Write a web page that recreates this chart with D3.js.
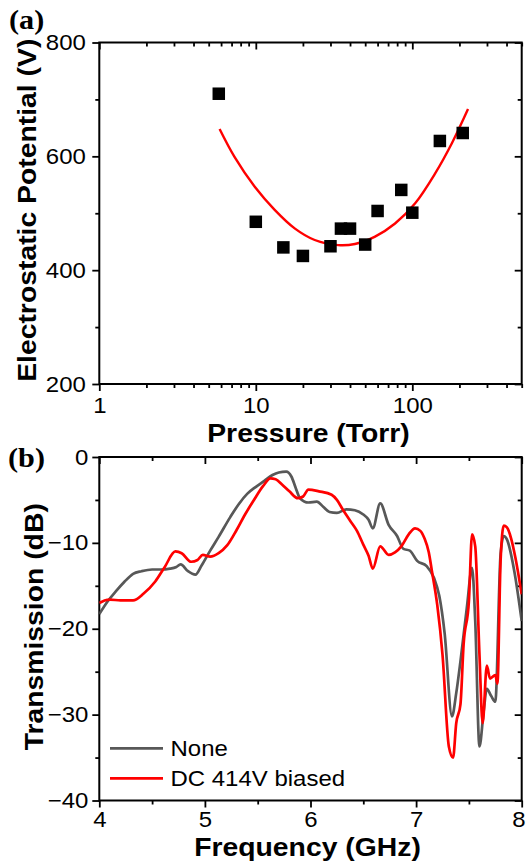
<!DOCTYPE html>
<html><head><meta charset="utf-8">
<script src="https://cdn.jsdelivr.net/npm/d3@7"></script>
<style>body{margin:0;background:#fff}svg{display:block}</style>
</head><body>
<script>
// ---------- Panel (a) data ----------
const pressure  = [5.8, 10, 15, 20, 30, 35, 40, 50, 60, 85, 100, 150, 210];
const potential = [710, 485, 440, 425, 442, 473, 473, 445, 504, 541, 501, 627, 641];
const fitPressure  = [5.87, 7.31, 9.82, 13.2, 17.8, 23.8, 33.6, 43, 57.8, 77.6, 104, 140, 179, 227];
const fitPotential = [648, 599, 547, 506, 473, 453, 444, 446, 459, 482, 517, 570, 623, 683];
const pressTicks = [1, 10, 100];
const potTicks = [200, 400, 600, 800];

// ---------- Panel (b) data ----------
const freqNone  = [4.00,4.08,4.16,4.24,4.32,4.40,4.50,4.58,4.67,4.73,4.77,4.84,4.91,4.97,5.05,5.13,5.24,5.32,5.40,5.48,5.56,5.64,5.70,5.77,5.82,5.86,5.90,5.98,6.06,6.12,6.18,6.25,6.34,6.42,6.50,6.55,6.59,6.66,6.74,6.82,6.88,6.94,7.01,7.10,7.17,7.22,7.27,7.34,7.38,7.42,7.48,7.53,7.56,7.60,7.64,7.67,7.71,7.75,7.80,7.83,7.86,7.93,8.00];
const transNone = [-18.3,-16.8,-15.6,-14.5,-13.6,-13.3,-13.1,-13.1,-13.0,-12.8,-12.5,-13.3,-13.7,-12.6,-10.9,-9.3,-7.0,-5.5,-4.3,-3.5,-2.8,-2.1,-1.8,-1.7,-2.3,-3.6,-4.8,-5.3,-5.2,-5.8,-6.4,-6.5,-6.1,-6.2,-6.7,-7.3,-8.3,-5.4,-7.9,-9.2,-10.7,-10.9,-12.1,-12.7,-14.1,-16.2,-20.5,-30.2,-27.5,-23.8,-17.6,-12.9,-19.1,-33.7,-29.6,-27.0,-27.8,-28.5,-11.3,-9.2,-9.6,-13.3,-19.1];
const freqDC  = [4.00,4.05,4.10,4.20,4.32,4.42,4.53,4.62,4.72,4.78,4.87,4.93,4.98,5.05,5.13,5.21,5.30,5.38,5.46,5.55,5.62,5.67,5.73,5.80,5.88,5.93,5.98,6.08,6.20,6.25,6.31,6.38,6.44,6.50,6.55,6.59,6.66,6.74,6.80,6.86,6.93,6.99,7.04,7.08,7.12,7.15,7.20,7.25,7.31,7.35,7.38,7.42,7.45,7.50,7.53,7.56,7.60,7.63,7.67,7.70,7.75,7.77,7.80,7.83,7.86,7.90,7.94,8.00];
const transDC = [-17.0,-16.7,-16.6,-16.7,-16.7,-15.9,-14.5,-12.8,-11.0,-11.2,-12.2,-12.0,-11.4,-11.6,-11.2,-10.3,-8.5,-6.7,-5.1,-3.4,-2.5,-2.6,-3.2,-4.0,-4.8,-4.6,-3.8,-4.0,-4.4,-5.0,-6.2,-7.5,-8.6,-10.2,-11.5,-13.0,-10.4,-11.4,-11.1,-10.4,-9.0,-8.3,-8.6,-9.5,-11.1,-13.3,-17.2,-23.0,-33.7,-35.0,-31.0,-28.8,-21.8,-16.8,-9.0,-10.4,-23.0,-31.0,-24.3,-25.8,-25.4,-26.4,-12.1,-8.0,-8.2,-9.5,-11.7,-16.0];
const freqTicks = [4, 5, 6, 7, 8];
const transTicks = [0, -10, -20, -30, -40];
const seriesNames = ["None", "DC 414V biased"];
const seriesColors = ["#585858", "#ff0000"];

const W = 527, H = 868;
const SANS = "'Liberation Sans', Arial, sans-serif";
const SERIF = "'Liberation Serif', 'Times New Roman', serif";
const SX = 1.09;
const TICKFS = 22;

const svg = d3.select("body").append("svg").attr("width", W).attr("height", H);

const L = 99.3, R = 521.7;
const A = {top: 42.5, bottom: 384};
const B = {top: 457, bottom: 800.5};

function styleAxis(g) {
  g.attr("font-size", null).attr("font-family", null);
  g.select(".domain").remove();
  g.selectAll("line").attr("stroke", "#000").attr("stroke-width", 1.8);
  g.selectAll("text").attr("fill", "#000")
    .style("font-family", SANS).style("font-size", TICKFS + "px");
}

function frame(top, bottom) {
  svg.append("rect").attr("x", L).attr("y", top).attr("width", R - L).attr("height", bottom - top)
    .attr("fill", "none").attr("stroke", "#000").attr("stroke-width", 2);
}

// ================= Panel (a) =================
const xa = d3.scaleLog().domain([1, 500]).range([L, R]);
const ya = d3.scaleLinear().domain([200, 800]).range([A.bottom, A.top]);
const pressMinor = [];
[1, 10, 100].forEach(d => { for (let k = 2; k <= 9; k++) { const v = d * k; if (v <= 500) pressMinor.push(v); } });
const potMinor = [300, 500, 700];

svg.append("g").attr("transform", `translate(0,${A.bottom})`)
  .call(d3.axisBottom(xa).tickValues(pressTicks).tickSize(7).tickPadding(6).tickFormat(d3.format("d")))
  .call(styleAxis)
  .call(g => g.selectAll("text").attr("transform", `scale(${SX},1)`));
svg.append("g").attr("transform", `translate(0,${A.bottom})`)
  .call(d3.axisBottom(xa).tickValues(pressMinor).tickSize(4).tickFormat(""))
  .call(styleAxis);
svg.append("g").attr("transform", `translate(0,${A.top})`)
  .call(d3.axisTop(xa).tickValues(pressTicks).tickSize(-7).tickFormat(""))
  .call(styleAxis);
svg.append("g").attr("transform", `translate(0,${A.top})`)
  .call(d3.axisTop(xa).tickValues(pressMinor).tickSize(-4).tickFormat(""))
  .call(styleAxis);
svg.append("g").attr("transform", `translate(${L},0)`)
  .call(d3.axisLeft(ya).tickValues(potTicks).tickSize(7).tickPadding(7))
  .call(styleAxis)
  .call(g => g.selectAll("text").attr("transform", `scale(${SX},1)`).attr("x", -13.5 / SX));
svg.append("g").attr("transform", `translate(${L},0)`)
  .call(d3.axisLeft(ya).tickValues(potMinor).tickSize(4).tickFormat(""))
  .call(styleAxis);
svg.append("g").attr("transform", `translate(${R},0)`)
  .call(d3.axisRight(ya).tickValues(potTicks).tickSize(-7).tickFormat(""))
  .call(styleAxis);
svg.append("g").attr("transform", `translate(${R},0)`)
  .call(d3.axisRight(ya).tickValues(potMinor).tickSize(-4).tickFormat(""))
  .call(styleAxis);

frame(A.top, A.bottom);

const fitData = fitPressure.map((p, i) => [p, fitPotential[i]]);
svg.append("path").datum(fitData)
  .attr("d", d3.line().x(d => xa(d[0])).y(d => ya(d[1])).curve(d3.curveCatmullRom.alpha(0.5)))
  .attr("fill", "none").attr("stroke", "#ff0000").attr("stroke-width", 2.4);

const sq = 12.5;
svg.append("g").selectAll("rect").data(pressure.map((p, i) => [p, potential[i]])).join("rect")
  .attr("x", d => xa(d[0]) - sq / 2).attr("y", d => ya(d[1]) - sq / 2)
  .attr("width", sq).attr("height", sq).attr("fill", "#000");

svg.append("text").attr("transform", `translate(${(L + R) / 2 - 2},441.5) scale(${SX},1)`)
  .attr("text-anchor", "middle").style("font-family", SANS).attr("font-weight", "bold").style("font-size", "26px")
  .text("Pressure (Torr)");
svg.append("text").attr("transform", `translate(35.5,${(A.top + A.bottom) / 2 - 3}) rotate(-90) scale(${SX},1)`)
  .attr("text-anchor", "middle").style("font-family", SANS).attr("font-weight", "bold").style("font-size", "26px")
  .text("Electrostatic Potential (V)");
svg.append("text").attr("transform", `translate(9,29) scale(1.12,1)`)
  .style("font-family", SERIF).attr("font-weight", "bold").style("font-size", "27px").text("(a)");

// ================= Panel (b) =================
const xb = d3.scaleLinear().domain([4, 8]).range([L, R]);
const yb = d3.scaleLinear().domain([-40, 0]).range([B.bottom, B.top]);
const freqMinor = [4.5, 5.5, 6.5, 7.5];
const transMinor = [-5, -15, -25, -35];

svg.append("g").attr("transform", `translate(0,${B.bottom})`)
  .call(d3.axisBottom(xb).tickValues(freqTicks).tickSize(7).tickPadding(4).tickFormat(d3.format("d")))
  .call(styleAxis)
  .call(g => g.selectAll("text").attr("transform", `scale(${SX},1)`)
    .attr("x", d => d === 8 ? -3 : 0));
svg.append("g").attr("transform", `translate(0,${B.bottom})`)
  .call(d3.axisBottom(xb).tickValues(freqMinor).tickSize(4).tickFormat(""))
  .call(styleAxis);
svg.append("g").attr("transform", `translate(0,${B.top})`)
  .call(d3.axisTop(xb).tickValues(freqTicks).tickSize(-7).tickFormat(""))
  .call(styleAxis);
svg.append("g").attr("transform", `translate(0,${B.top})`)
  .call(d3.axisTop(xb).tickValues(freqMinor).tickSize(-4).tickFormat(""))
  .call(styleAxis);
svg.append("g").attr("transform", `translate(${L},0)`)
  .call(d3.axisLeft(yb).tickValues(transTicks).tickSize(7).tickPadding(7).tickFormat(d3.format("d")))
  .call(styleAxis)
  .call(g => g.selectAll("text").attr("transform", `scale(${SX},1)`).attr("x", -11 / SX));
svg.append("g").attr("transform", `translate(${L},0)`)
  .call(d3.axisLeft(yb).tickValues(transMinor).tickSize(4).tickFormat(""))
  .call(styleAxis);
svg.append("g").attr("transform", `translate(${R},0)`)
  .call(d3.axisRight(yb).tickValues(transTicks).tickSize(-7).tickFormat(""))
  .call(styleAxis);
svg.append("g").attr("transform", `translate(${R},0)`)
  .call(d3.axisRight(yb).tickValues(transMinor).tickSize(-4).tickFormat(""))
  .call(styleAxis);

frame(B.top, B.bottom);

const lineB = d3.line().x(d => xb(d[0])).y(d => yb(d[1])).curve(d3.curveMonotoneX);
const seriesB = [
  freqNone.map((f, i) => [f, transNone[i]]),
  freqDC.map((f, i) => [f, transDC[i]])
];
svg.append("clipPath").attr("id", "clipB").append("rect")
  .attr("x", L).attr("y", B.top).attr("width", R - L).attr("height", B.bottom - B.top);
seriesB.forEach((s, i) => {
  svg.append("path").datum(s).attr("d", lineB).attr("clip-path", "url(#clipB)")
    .attr("fill", "none").attr("stroke", seriesColors[i]).attr("stroke-width", 2.7)
    .attr("stroke-linejoin", "round");
});

seriesNames.forEach((name, i) => {
  const y = 748.3 + i * 30;
  svg.append("line").attr("x1", 110).attr("x2", 163).attr("y1", y).attr("y2", y)
    .attr("stroke", seriesColors[i]).attr("stroke-width", 2.7);
  svg.append("text").attr("transform", `translate(170.5,${y + 7.5}) scale(${SX},1)`)
    .style("font-family", SANS).style("font-size", "22px").attr("fill", "#000").text(name);
});

svg.append("text").attr("transform", `translate(${(L + R) / 2 - 3},856) scale(${SX},1)`)
  .attr("text-anchor", "middle").style("font-family", SANS).attr("font-weight", "bold").style("font-size", "26px")
  .text("Frequency (GHz)");
svg.append("text").attr("transform", `translate(43,${(B.top + B.bottom) / 2 - 2}) rotate(-90) scale(${SX},1)`)
  .attr("text-anchor", "middle").style("font-family", SANS).attr("font-weight", "bold").style("font-size", "26px")
  .text("Transmission (dB)");
svg.append("text").attr("transform", `translate(8,467) scale(1.12,1)`)
  .style("font-family", SERIF).attr("font-weight", "bold").style("font-size", "27px").text("(b)");
</script>
</body></html>
